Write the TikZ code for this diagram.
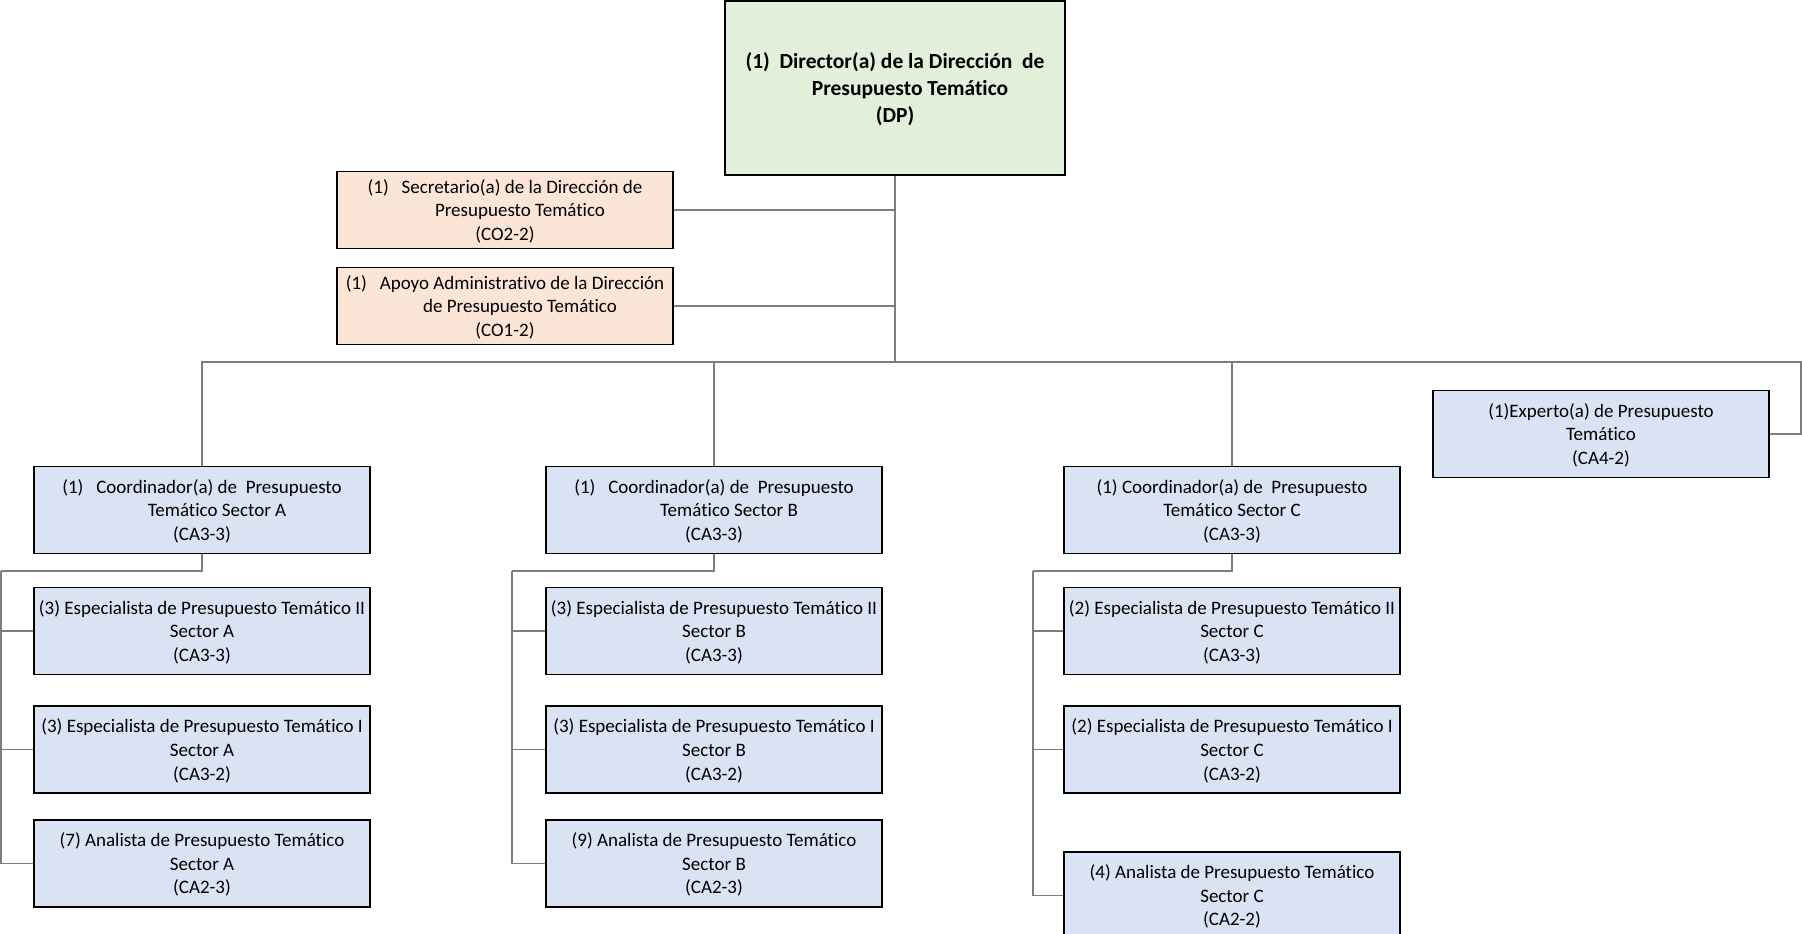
\documentclass[tikz,border=0pt]{standalone}
\usepackage{fontspec}
\setmainfont{Carlito}[Ligatures=NoCommon]
\usetikzlibrary{positioning}

\definecolor{dirgreen}{RGB}{226,239,218}
\definecolor{staffpeach}{RGB}{251,229,214}
\definecolor{unitblue}{RGB}{218,227,243}
\definecolor{linkgray}{RGB}{125,125,125}

\newcommand{\indline}{\hspace*{30pt}}

\begin{document}
\begin{tikzpicture}[
    x=1pt, y=-1pt,
    node distance=30pt,
    box/.style={
        draw=black,
        line width=1.6pt,
        align=center,
        inner sep=0pt,
        text depth=-2pt,
        font=\fontsize{19}{23.8}\selectfont
    },
    unit/.style={
        box,
        fill=unitblue,
        minimum width=336pt,
        minimum height=87pt
    },
    staff/.style={
        box,
        fill=staffpeach,
        minimum width=336pt,
        minimum height=77pt
    },
    head/.style={
        box,
        fill=dirgreen,
        minimum width=340pt,
        minimum height=174pt,
        font=\bfseries\fontsize{21.5}{27}\selectfont
    },
    link/.style={
        draw=linkgray,
        line width=1.3pt
    }
]

\useasboundingbox (0,0) rectangle (1802,934);

\node[head] (dp) at (895,88)
{(1)\ \ Director(a) de la Dirección\ \ de\\ \indline Presupuesto Temático\\ (DP)};

\node[staff] (sec) at (505,210)
{(1)\ \ \ Secretario(a) de la Dirección de\\ \indline Presupuesto Temático\\ (CO2-2)};

\node[staff] (apoyo) at (505,306)
{(1)\ \ \ Apoyo Administrativo de la Dirección\\ \indline de Presupuesto Temático\\ (CO1-2)};

\node[unit] (exp) at (1601,434)
{(1)Experto(a) de Presupuesto\\ Temático\\ (CA4-2)};

% coordinadores
\node[unit] (ca) at (202,510)
{(1)\ \ \ Coordinador(a) de\ \ Presupuesto\\ \indline Temático Sector A\\ (CA3-3)};

\node[unit] (cb) at (714,510)
{(1)\ \ \ Coordinador(a) de\ \ Presupuesto\\ \indline Temático Sector B\\ (CA3-3)};

\node[unit] (cc) at (1232,510)
{(1) Coordinador(a) de\ \ Presupuesto\\ Temático Sector C\\ (CA3-3)};

% sector A
\node[unit] (eiia) at (202,631)
{(3) Especialista de Presupuesto Temático II\\ Sector A\\ (CA3-3)};

\node[unit, below=of eiia] (eia)
{(3) Especialista de Presupuesto Temático I\\ Sector A\\ (CA3-2)};

\node[unit, below=25pt of eia] (ana)
{(7) Analista de Presupuesto Temático\\ Sector A\\ (CA2-3)};

% sector B
\node[unit] (eiib) at (714,631)
{(3) Especialista de Presupuesto Temático II\\ Sector B\\ (CA3-3)};

\node[unit, below=of eiib] (eib)
{(3) Especialista de Presupuesto Temático I\\ Sector B\\ (CA3-2)};

\node[unit, below=25pt of eib] (anb)
{(9) Analista de Presupuesto Temático\\ Sector B\\ (CA2-3)};

% sector C
\node[unit] (eiic) at (1232,631)
{(2) Especialista de Presupuesto Temático II\\ Sector C\\ (CA3-3)};

\node[unit, below=of eiic] (eic)
{(2) Especialista de Presupuesto Temático I\\ Sector C\\ (CA3-2)};

\node[unit, below=57pt of eic] (anc)
{(4) Analista de Presupuesto Temático\\ Sector C\\ (CA2-2)};

% lines
\coordinate (bus) at (895,362);
\coordinate (busr) at (1801,362);
\coordinate (spa) at (1,571);
\coordinate (spb) at (512,571);
\coordinate (spc) at (1033,571);

\draw[link] (dp.south) -- (bus);
\draw[link] (sec.east) -- (sec.east -| dp.south);
\draw[link] (apoyo.east) -- (apoyo.east -| dp.south);

\draw[link] (bus) -| (ca.north);
\draw[link] (bus) -| (cb.north);
\draw[link] (bus) -| (cc.north);
\draw[link] (bus) -- (busr) |- (exp.east);

\draw[link] (ca.south) |- (spa);
\draw[link] (spa) |- (eiia.west);
\draw[link] (spa) |- (eia.west);
\draw[link] (spa) |- (ana.west);

\draw[link] (cb.south) |- (spb);
\draw[link] (spb) |- (eiib.west);
\draw[link] (spb) |- (eib.west);
\draw[link] (spb) |- (anb.west);

\draw[link] (cc.south) |- (spc);
\draw[link] (spc) |- (eiic.west);
\draw[link] (spc) |- (eic.west);
\draw[link] (spc) |- (anc.west);

\end{tikzpicture}
\end{document}
